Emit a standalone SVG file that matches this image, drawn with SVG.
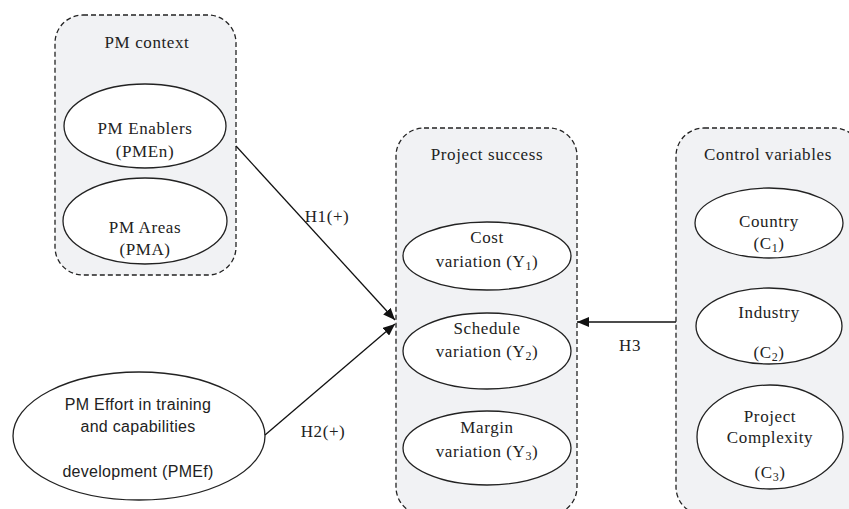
<svg xmlns="http://www.w3.org/2000/svg" width="849" height="509" viewBox="0 0 849 509">
<style>
.box{fill:#f1f2f4;stroke:#222;stroke-width:1.3;stroke-dasharray:5,3}
.el{fill:#fff;stroke:#222;stroke-width:1.3}
.t{font-family:"Liberation Serif","Times New Roman",serif;font-size:17px;letter-spacing:0.6px;fill:#222;text-anchor:middle}
.s{font-family:"Liberation Sans",Arial,sans-serif;font-size:16px;letter-spacing:0.3px;fill:#222;text-anchor:middle}
.sub{font-size:12px}
.ln{stroke:#111;stroke-width:1.3;fill:none}
</style>
<defs>
<marker id="ah" viewBox="0 0 12 10" refX="12" refY="5" markerWidth="12" markerHeight="10" markerUnits="userSpaceOnUse" orient="auto">
<path d="M0,0 L12,5 L0,10 Z" fill="#111"/>
</marker>
</defs>
<g id="pm-context">
<rect class="box" x="55" y="15" width="181" height="260" rx="28" ry="28"/>
<text class="t" x="147" y="48">PM context</text>
</g>
<g id="pmen">
<ellipse class="el" cx="145" cy="126" rx="81" ry="42"/>
<text class="t" x="145" y="134">PM Enablers</text>
<text class="t" x="145" y="157">(PMEn)</text>
</g>
<g id="pma">
<ellipse class="el" cx="145" cy="221" rx="82" ry="43"/>
<text class="t" x="145" y="233">PM Areas</text>
<text class="t" x="145" y="255">(PMA)</text>
</g>
<g id="project-success">
<rect class="box" x="396" y="128" width="181" height="387" rx="28" ry="28"/>
<text class="t" x="487" y="160">Project success</text>
</g>
<g id="y1">
<ellipse class="el" cx="487" cy="256" rx="84" ry="34"/>
<text class="t" x="487" y="243">Cost</text>
<text class="t" x="487" y="267">variation (Y<tspan class="sub" dy="3">1</tspan><tspan dy="-3">)</tspan></text>
</g>
<g id="y2">
<ellipse class="el" cx="487" cy="351" rx="84" ry="38"/>
<text class="t" x="487" y="334">Schedule</text>
<text class="t" x="487" y="357">variation (Y<tspan class="sub" dy="3">2</tspan><tspan dy="-3">)</tspan></text>
</g>
<g id="y3">
<ellipse class="el" cx="487" cy="448" rx="84" ry="37"/>
<text class="t" x="487" y="433">Margin</text>
<text class="t" x="487" y="457">variation (Y<tspan class="sub" dy="3">3</tspan><tspan dy="-3">)</tspan></text>
</g>
<g id="control-variables">
<rect class="box" x="676" y="128" width="186" height="387" rx="28" ry="28"/>
<text class="t" x="768" y="160">Control variables</text>
</g>
<g id="c1">
<ellipse class="el" cx="769" cy="223" rx="74" ry="35"/>
<text class="t" x="769" y="227">Country</text>
<text class="t" x="769" y="249">(C<tspan class="sub" dy="3">1</tspan><tspan dy="-3">)</tspan></text>
</g>
<g id="c2">
<ellipse class="el" cx="769" cy="326" rx="73" ry="38"/>
<text class="t" x="769" y="318">Industry</text>
<text class="t" x="769" y="358">(C<tspan class="sub" dy="3">2</tspan><tspan dy="-3">)</tspan></text>
</g>
<g id="c3">
<ellipse class="el" cx="770" cy="437" rx="73" ry="52"/>
<text class="t" x="770" y="422">Project</text>
<text class="t" x="770" y="443">Complexity</text>
<text class="t" x="770" y="478">(C<tspan class="sub" dy="3">3</tspan><tspan dy="-3">)</tspan></text>
</g>
<g id="pmef">
<ellipse class="el" cx="139" cy="436" rx="126" ry="64"/>
<text class="s" x="138" y="410">PM Effort in training</text>
<text class="s" x="138" y="432">and capabilities</text>
<text class="s" x="138" y="477">development (PMEf)</text>
</g>
<g id="connectors">
<line class="ln" x1="236" y1="146" x2="395" y2="320" marker-end="url(#ah)"/>
<line class="ln" x1="265" y1="435" x2="395" y2="324" marker-end="url(#ah)"/>
<line class="ln" x1="676" y1="322" x2="577" y2="322" marker-end="url(#ah)"/>
<text class="t" x="327" y="222">H1(+)</text>
<text class="t" x="323" y="437">H2(+)</text>
<text class="t" x="630" y="351">H3</text>
</g>
</svg>
